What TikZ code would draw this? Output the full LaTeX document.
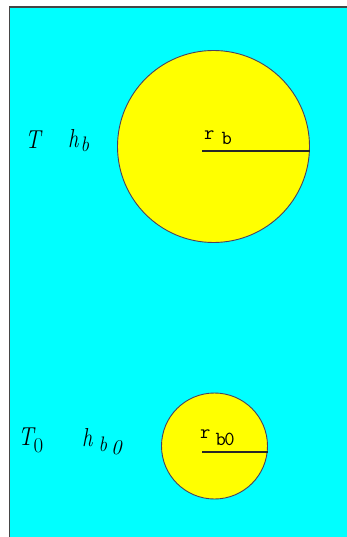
\documentclass[tikz,border=0pt]{standalone}
\usepackage{fontspec}
\definecolor{aquabg}{RGB}{0,255,255}
\definecolor{sunyel}{RGB}{255,255,0}
\definecolor{rimcol}{RGB}{75,65,95}
\definecolor{linecol}{RGB}{40,40,40}
\definecolor{framecol}{RGB}{70,70,70}
\tikzset{
  circ/.style={circle, draw=rimcol, fill=sunyel, inner sep=0pt, line width=0.9pt},
  rad/.style={draw=linecol, line width=1.4pt},
  lab/.style={inner sep=0pt, anchor=base west, font=\fontsize{26}{28}\selectfont\itshape},
  rtext/.style={inner sep=0pt, anchor=base west, font=\ttfamily\fontsize{20}{22}\selectfont},
}
\newcommand{\subf}{\fontsize{21}{23}\selectfont}
\begin{document}
\begin{tikzpicture}[x=1pt,y=-1pt]
\useasboundingbox (0,0) rectangle (347,537);
\fill[aquabg] (9.5,7) rectangle (347,537);
\draw[framecol, line width=1.6pt] (9.5,537) -- (9.5,7) -- (347,7);
% big circle
\node[circ, minimum size=192pt] (B) at (213.5,146.5) {};
\coordinate (bs) at (202,151);
\draw[rad] (bs) -- (bs -| B.east);
\node[rtext] (rb) at (204,140) {r\hspace{7pt}\raisebox{-5pt}{b}};
% small circle
\node[circ, minimum size=106pt] (S) at (214.5,446) {};
\coordinate (ss) at (202,452);
\draw[rad] (ss) -- (ss -| S.east);
\node[rtext] (rb0) at (200,438) {r\hspace{5pt}\raisebox{-7pt}{b\hspace{-1.5pt}0}};
% labels
\node[lab] (T) at (25,149) {\scalebox{0.85}[1]{T}};
\node[lab] (hb) at (68,148) {\scalebox{0.8}[1]{h}\hspace{2pt}\raisebox{-4pt}{\subf\scalebox{0.9}[1]{b}}};
\node[lab] (T0) at (18,445) {\scalebox{0.85}[1]{T}\raisebox{-7pt}{\subf\upshape 0}};
\node[lab] (hb0) at (82,446) {\scalebox{0.8}[1]{h}\hspace{6pt}\raisebox{-5pt}{\subf\scalebox{0.9}[1]{b}}\hspace{4pt}\raisebox{-8pt}{\subf 0}};
\end{tikzpicture}
\end{document}
